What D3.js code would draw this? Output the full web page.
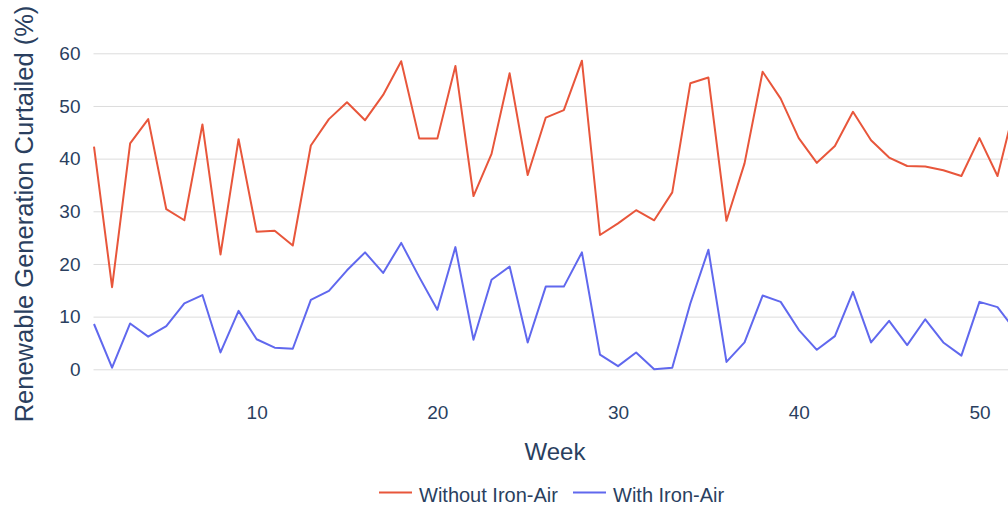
<!DOCTYPE html>
<html>
<head>
<meta charset="utf-8">
<script src="https://cdn.jsdelivr.net/npm/d3@7"></script>
<style>
    body { margin: 0; background: #fff; }
    #chart { width: 1008px; height: 506px; overflow: hidden; }
    text { font-family: "Liberation Sans", Arial, Helvetica, sans-serif; fill: #2a3f5f; }
</style>
</head>
<body>
<div id="chart"></div>
<script>

// weeks of the year
const weeks = [1, 2, 3, 4, 5, 6, 7, 8, 9, 10, 11, 12, 13, 14, 15, 16, 17, 18, 19, 20,
    21, 22, 23, 24, 25, 26, 27, 28, 29, 30, 31, 32, 33, 34, 35, 36, 37, 38, 39, 40,
    41, 42, 43, 44, 45, 46, 47, 48, 49, 50, 51, 52];

// curtailed share (%) without iron-air storage
const withoutIronAir = [42.3, 15.6, 42.9, 47.5, 30.4, 28.3, 46.5, 21.8, 43.7, 26.1,
    26.3, 23.5, 42.5, 47.5, 50.7, 47.3, 52.1, 58.5, 43.8, 43.8,
    57.6, 32.9, 40.9, 56.2, 36.9, 47.8, 49.2, 58.6, 25.5, 27.7,
    30.2, 28.3, 33.6, 54.3, 55.4, 28.2, 39.1, 56.5, 51.4, 43.9,
    39.2, 42.4, 48.9, 43.5, 40.2, 38.6, 38.5, 37.8, 36.7, 43.9,
    36.7, 50.5];

// curtailed share (%) with iron-air storage
const withIronAir = [8.6, 0.3, 8.7, 6.2, 8.2, 12.5, 14.1, 3.2, 11.1, 5.7,
    4.1, 3.9, 13.2, 14.9, 18.8, 22.2, 18.3, 24.0, 17.5, 11.3,
    23.2, 5.6, 17.0, 19.5, 5.1, 15.7, 15.7, 22.2, 2.8, 0.6,
    3.2, 0.0, 0.3, 12.5, 22.7, 1.4, 5.1, 14.0, 12.8, 7.5,
    3.7, 6.3, 14.7, 5.1, 9.2, 4.6, 9.5, 5.1, 2.6, 12.8,
    11.8, 7.3];

const seriesNames = ["Without Iron-Air", "With Iron-Air"];
const seriesColors = ["#e8563b", "#6068ee"];
const yTicks = [0, 10, 20, 30, 40, 50, 60];
const xTicks = [10, 20, 30, 40, 50];


class LineVis {

    constructor(parentElement) {
        this.parentElement = parentElement;
        this.series = [withoutIronAir, withIronAir];
        this.initVis();
    }

    initVis() {
        let vis = this;
        vis.width = 1008;
        vis.height = 506;

        // plot area runs a bit past the right edge of the picture
        vis.plot = {left: 94, right: 1015.6, top: 53.3, bottom: 369.3};

        vis.svg = d3.select("#" + vis.parentElement).append("svg")
            .attr("width", vis.width)
            .attr("height", vis.height);

        vis.x = d3.scaleLinear()
            .domain([1, 52])
            .range([vis.plot.left, vis.plot.right]);

        vis.y = d3.scaleLinear()
            .domain([0, 60])
            .range([vis.plot.bottom, vis.plot.top]);

        // horizontal grid + y labels
        vis.yAxis = vis.svg.append("g")
            .attr("class", "y-axis")
            .attr("transform", `translate(${vis.plot.left - 0.5}, 0)`)
            .call(d3.axisLeft(vis.y)
                .tickValues(yTicks)
                .tickSize(-(vis.width + 20 - vis.plot.left))
                .tickPadding(13));
        vis.yAxis.select(".domain").remove();
        vis.yAxis.selectAll("line").attr("stroke", "#dcdcdc").attr("stroke-width", 1);
        vis.yAxis.selectAll("text").style("font-size", "19px").attr("fill", "#2a3f5f");

        // x labels only, no ticks
        vis.xAxis = vis.svg.append("g")
            .attr("class", "x-axis")
            .attr("transform", `translate(0, ${vis.plot.bottom})`)
            .call(d3.axisBottom(vis.x).tickValues(xTicks).tickSize(0).tickPadding(36));
        vis.xAxis.select(".domain").remove();
        vis.xAxis.selectAll("text").style("font-size", "19px").attr("fill", "#2a3f5f");

        // axis titles
        vis.svg.append("text")
            .attr("x", 555)
            .attr("y", 460)
            .attr("text-anchor", "middle")
            .style("font-size", "24px")
            .text("Week");

        vis.svg.append("text")
            .attr("transform", "translate(33, 214) rotate(-90)")
            .attr("text-anchor", "middle")
            .style("font-size", "25.5px")
            .text("Renewable Generation Curtailed (%)");

        vis.line = d3.line()
            .x((d, i) => vis.x(weeks[i]))
            .y(d => vis.y(d));

        // legend
        let legendItems = [{x: 379, w: 33, tx: 419}, {x: 573, w: 33, tx: 613}];
        vis.legend = vis.svg.append("g").attr("class", "legend");
        legendItems.forEach((l, i) => {
            vis.legend.append("line")
                .attr("x1", l.x).attr("x2", l.x + l.w)
                .attr("y1", 492.5).attr("y2", 492.5)
                .attr("stroke", seriesColors[i])
                .attr("stroke-width", 2);
            vis.legend.append("text")
                .attr("x", l.tx)
                .attr("y", 502)
                .style("font-size", "20px")
                .text(seriesNames[i]);
        });

        vis.updateVis();
    }

    updateVis() {
        let vis = this;

        vis.svg.selectAll(".series")
            .data(vis.series)
            .enter()
            .append("path")
            .attr("class", "series")
            .attr("d", d => vis.line(d))
            .attr("fill", "none")
            .attr("stroke", (d, i) => seriesColors[i])
            .attr("stroke-width", 2)
            .attr("stroke-linejoin", "round");
    }
}

new LineVis("chart");
</script>
</body>
</html>
